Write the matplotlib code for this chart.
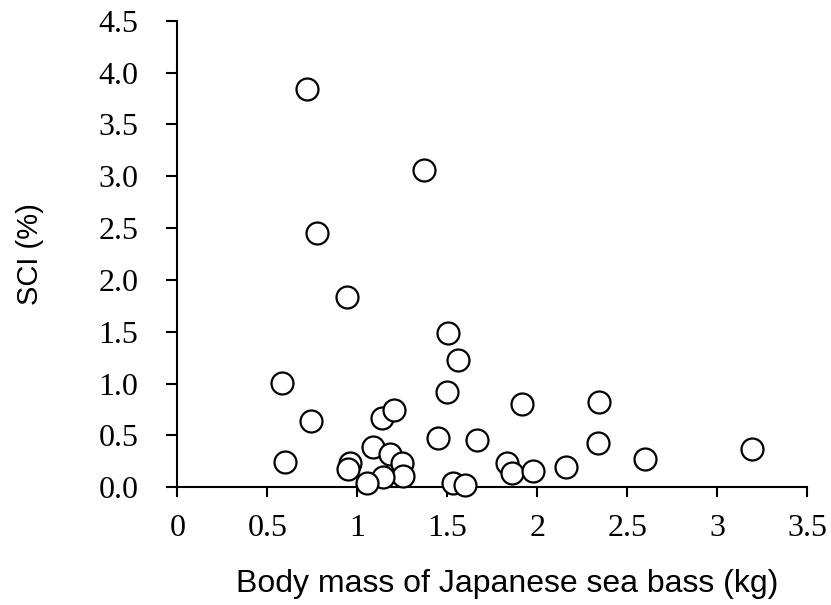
import matplotlib
matplotlib.use("Agg")
import matplotlib.pyplot as plt

# Body mass (kg) and SCI (%) of individual Japanese sea bass
body_mass = [0.719, 1.372, 0.778, 0.941, 1.506, 1.561, 0.580, 1.500, 1.913, 2.344,
             0.743, 1.136, 1.204, 1.450, 1.663, 2.339, 1.086, 1.182, 0.959, 0.950,
             1.247, 1.252, 1.141, 1.056, 1.530, 1.598, 2.598, 1.833, 1.858, 1.978,
             2.159, 0.598, 3.191]
sci = [3.838, 3.060, 2.455, 1.838, 1.485, 1.228, 1.003, 0.916, 0.803, 0.825,
       0.642, 0.668, 0.745, 0.473, 0.456, 0.424, 0.392, 0.321, 0.231, 0.174,
       0.231, 0.109, 0.102, 0.039, 0.044, 0.022, 0.273, 0.237, 0.135, 0.160,
       0.199, 0.247, 0.366]

x_ticks = [0, 0.5, 1, 1.5, 2, 2.5, 3, 3.5]
x_tick_labels = ["0", "0.5", "1", "1.5", "2", "2.5", "3", "3.5"]
y_ticks = [0.0, 0.5, 1.0, 1.5, 2.0, 2.5, 3.0, 3.5, 4.0, 4.5]
y_tick_labels = ["0.0", "0.5", "1.0", "1.5", "2.0", "2.5", "3.0", "3.5", "4.0", "4.5"]

W, H = 831, 605
fig = plt.figure(figsize=(W / 100, H / 100), dpi=100)
ax = fig.add_axes([177.3 / W, 1 - 487.3 / H, (807.3 - 177.3) / W, (487.3 - 20.7) / H])

ax.scatter(body_mass, sci, s=250, facecolor="white", edgecolor="black",
           linewidths=1.6, clip_on=False, zorder=3)

ax.set_xlim(0, 3.5)
ax.set_ylim(0, 4.5)
ax.spines["top"].set_visible(False)
ax.spines["right"].set_visible(False)
for s in ("left", "bottom"):
    ax.spines[s].set_linewidth(1.5)
    ax.spines[s].set_zorder(1)

serif = ["Liberation Serif", "DejaVu Serif"]
ax.set_xticks(x_ticks)
ax.set_xticklabels(x_tick_labels, fontsize=23, family=serif)
ax.set_yticks(y_ticks)
ax.set_yticklabels(y_tick_labels, fontsize=23, family=serif)
ax.tick_params(axis="x", direction="out", length=7, width=1.5, pad=12)
ax.tick_params(axis="y", direction="out", length=8, width=1.5, pad=20)

sans = ["Liberation Sans", "DejaVu Sans"]
ax.set_xlabel("Body mass of Japanese sea bass (kg)", fontsize=23, family=sans, labelpad=19)
ax.xaxis.label.set_x(0.524)
ax.set_ylabel("SCI (%)", fontsize=21, family=sans, labelpad=39)

fig.savefig("out.png", dpi=100)
